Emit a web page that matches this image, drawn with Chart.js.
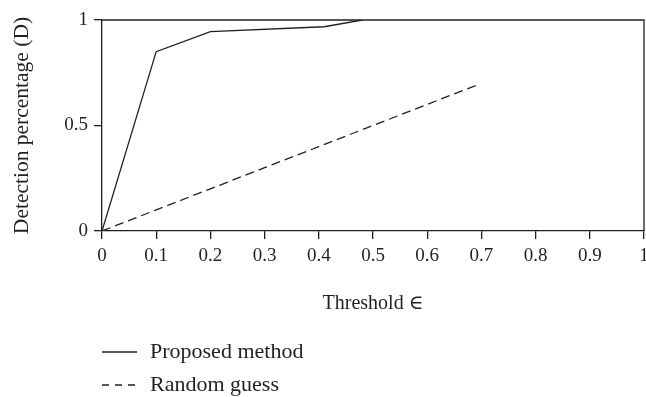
<!DOCTYPE html>
<html>
<head>
<meta charset="utf-8">
<script src="https://cdn.jsdelivr.net/npm/chart.js@4/dist/chart.umd.min.js"></script>
<style>
  html, body { margin: 0; padding: 0; background: #fff; }
</style>
</head>
<body>
<canvas id="myChart" width="646" height="397"></canvas>
<script>
// values
const proposedX = [0, 0.1, 0.2, 0.41, 0.48];
const proposedY = [0, 0.85, 0.945, 0.968, 1];
const randomX = [0, 0.1, 0.2, 0.3, 0.4, 0.5, 0.6, 0.69];
const randomY = [0, 0.1, 0.2, 0.3, 0.4, 0.5, 0.6, 0.69];
const xTicks = [0, 0.1, 0.2, 0.3, 0.4, 0.5, 0.6, 0.7, 0.8, 0.9, 1];
const yTicks = [0, 0.5, 1];
const seriesNames = ['Proposed method', 'Random guess'];

const ink = '#231f20';
const serif = "'Liberation Serif', 'DejaVu Serif', serif";

function toPoints(xs, ys) {
  return xs.map((x, i) => ({ x: x, y: ys[i] }));
}

// top/right frame and the stacked legend under the axis title
const framePlugin = {
  id: 'frame',
  afterDraw(chart) {
    const { ctx, chartArea: a } = chart;
    ctx.save();
    ctx.strokeStyle = ink;
    ctx.lineWidth = 1.3;
    ctx.beginPath();
    ctx.moveTo(a.left, a.top);
    ctx.lineTo(a.right, a.top);
    ctx.lineTo(a.right, a.bottom);
    ctx.stroke();

    ctx.font = '22px ' + serif;
    ctx.fillStyle = ink;
    ctx.textBaseline = 'middle';
    chart.data.datasets.forEach((ds, i) => {
      const y = 352 + i * 33;
      ctx.setLineDash(ds.borderDash ? [7, 6] : []);
      ctx.beginPath();
      ctx.moveTo(a.left, y);
      ctx.lineTo(a.left + 35, y);
      ctx.stroke();
      ctx.setLineDash([]);
      ctx.fillText(ds.label, a.left + 48, y);
    });
    ctx.restore();
  }
};

const ctx = document.getElementById('myChart').getContext('2d');
const myChart = new Chart(ctx, {
  type: 'line',
  data: {
    datasets: [{
      label: seriesNames[0],
      data: toPoints(proposedX, proposedY),
      borderColor: ink,
      borderWidth: 1.3,
      pointRadius: 0,
      tension: 0,
      fill: false
    }, {
      label: seriesNames[1],
      data: toPoints(randomX, randomY),
      borderColor: ink,
      borderWidth: 1.3,
      borderDash: [9, 5],
      pointRadius: 0,
      tension: 0,
      fill: false
    }]
  },
  options: {
    responsive: false,
    animation: false,
    devicePixelRatio: 1,
    layout: { padding: { top: 20, right: 2, bottom: 77, left: 0 } },
    plugins: {
      legend: { display: false },
      tooltip: { enabled: false }
    },
    scales: {
      x: {
        type: 'linear',
        min: 0,
        max: 1,
        afterBuildTicks: s => { s.ticks = xTicks.map(v => ({ value: v })); },
        afterFit: s => { s.height = 89; s.paddingRight = 0; s.paddingLeft = 0; },
        ticks: {
          color: ink,
          padding: 6,
          maxRotation: 0,
          font: { family: serif, size: 19 },
          callback: v => String(v)
        },
        grid: { display: true, drawOnChartArea: false, drawTicks: true, tickLength: 8, color: ink, lineWidth: 1.3 },
        border: { display: true, color: ink, width: 1.3 },
        title: {
          display: true,
          text: 'Threshold ∈',
          color: ink,
          font: { family: serif, size: 20 },
          padding: { top: 4, bottom: 4 }
        }
      },
      y: {
        type: 'linear',
        min: 0,
        max: 1,
        afterBuildTicks: s => { s.ticks = yTicks.map(v => ({ value: v })); },
        afterFit: s => { s.width = 102; s.paddingTop = 0; s.paddingBottom = 0; },
        ticks: {
          color: ink,
          padding: 6,
          font: { family: serif, size: 19 },
          callback: v => String(v)
        },
        grid: { display: true, drawOnChartArea: false, drawTicks: true, tickLength: 8, color: ink, lineWidth: 1.3 },
        border: { display: true, color: ink, width: 1.3 },
        title: {
          display: true,
          text: 'Detection percentage (D)',
          color: ink,
          font: { family: serif, size: 21.5 },
          padding: { top: 9, bottom: 4 }
        }
      }
    }
  },
  plugins: [framePlugin]
});
</script>
</body>
</html>
